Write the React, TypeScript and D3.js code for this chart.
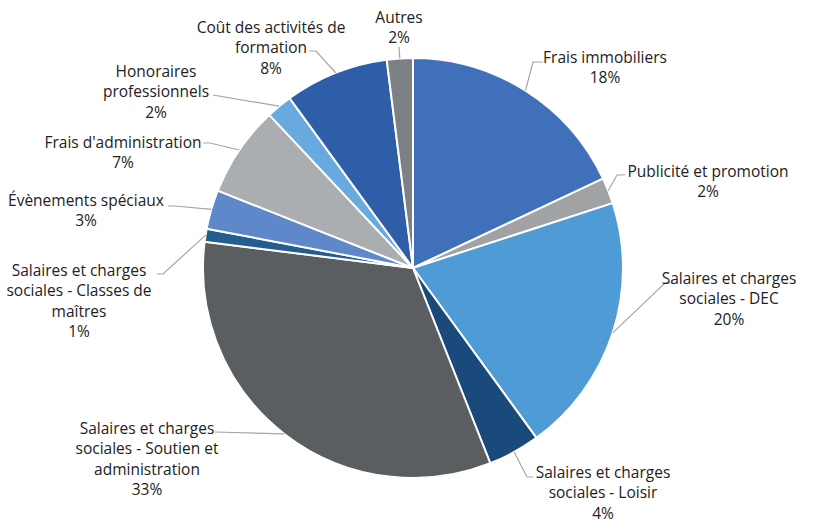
import React from "react";
import * as d3 from "d3";

const categories = [
  "Frais immobiliers",
  "Publicité et promotion",
  "Salaires et charges sociales - DEC",
  "Salaires et charges sociales - Loisir",
  "Salaires et charges sociales - Soutien et administration",
  "Salaires et charges sociales - Classes de maîtres",
  "Évènements spéciaux",
  "Frais d'administration",
  "Honoraires professionnels",
  "Coût des activités de formation",
  "Autres",
];
const values = [18, 2, 20, 4, 33, 1, 3, 7, 2, 8, 2];
const colors = [
  "#4070BA", "#A0A2A4", "#4E9BD5", "#1A4A7C", "#5A5E60", "#255D91",
  "#5F88CA", "#ABAEB0", "#68A9DF", "#2E5EA8", "#7E8184",
];
// label text lines (wrapped as in the original)
const labelLines = [
  ["Frais immobiliers"],
  ["Publicité et promotion"],
  ["Salaires et charges", "sociales - DEC"],
  ["Salaires et charges", "sociales - Loisir"],
  ["Salaires et charges", "sociales - Soutien et", "administration"],
  ["Salaires et charges", "sociales - Classes de", "maîtres"],
  ["Évènements spéciaux"],
  ["Frais d'administration"],
  ["Honoraires", "professionnels"],
  ["Coût des activités de", "formation"],
  ["Autres"],
];

// layout: label block center x, first line center y; leader start point & elbow
const layout = [
  { cx: 605, cy: 57, lead: [[543, 62], [533, 62]] },
  { cx: 708, cy: 171, lead: [[625, 175], [617, 175]] },
  { cx: 729, cy: 278, lead: [[672, 283], [665, 283]] },
  { cx: 603, cy: 472, lead: [[533, 477], [527, 477]] },
  { cx: 147, cy: 428, lead: [[215, 432], [215, 432]] },
  { cx: 79, cy: 270, lead: [[157, 274], [163, 274]] },
  { cx: 86, cy: 200, lead: [[168, 206], [175, 206]] },
  { cx: 123, cy: 142, lead: [[203, 143], [210, 143]] },
  { cx: 156, cy: 71, lead: [[213, 95], [213, 95]] },
  { cx: 271, cy: 27, lead: [[309, 51], [316, 51]] },
  { cx: 399, cy: 17, lead: [[399, 47], [399, 47]] },
];

export default function App() {
  const W = 820, H = 521;
  const cx = 413, cy = 268, r = 210;
  const total = d3.sum(values);
  const pie = d3.pie<number>().sort(null).value((d) => d);
  const arcs = pie(values);
  const arc = d3.arc<d3.PieArcDatum<number>>().innerRadius(0).outerRadius(r);
  const lineH = 20.5;

  return (
    <svg width={W} height={H} style={{ position: "absolute", left: 0, top: 0, background: "#fff" }}
      fontFamily="'Open Sans', Lato, sans-serif">
      <g transform={`translate(${cx},${cy})`}>
        {arcs.map((a, i) => (
          <path key={i} d={arc(a) || ""} fill={colors[i]} stroke="#fff" strokeWidth={2} strokeLinejoin="round" />
        ))}
      </g>
      {arcs.map((a, i) => {
        const mid = (a.startAngle + a.endAngle) / 2;
        const ex = cx + r * Math.sin(mid);
        const ey = cy - r * Math.cos(mid);
        const pts = [...layout[i].lead, [ex, ey]];
        return (
          <polyline key={"l" + i} points={pts.map((p) => p.join(",")).join(" ")}
            fill="none" stroke="#A6A6A6" strokeWidth={1.2} />
        );
      })}
      {categories.map((c, i) => {
        const L = layout[i];
        const lines = [...labelLines[i], `${Math.round((values[i] / total) * 100)}%`];
        return (
          <text key={"t" + i} textAnchor="middle" fontSize={15.5} fill="#222">
            {lines.map((ln, j) => (
              <tspan key={j} x={L.cx} y={L.cy + j * lineH + 5.5}>{ln}</tspan>
            ))}
          </text>
        );
      })}
    </svg>
  );
}
